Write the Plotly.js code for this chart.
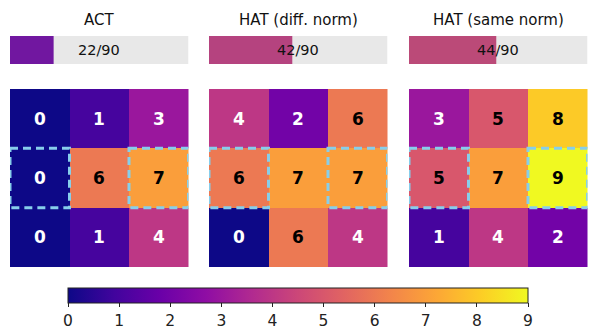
<!DOCTYPE html>
<html>
<head>
<meta charset="utf-8">
<script src="https://cdn.plot.ly/plotly-3.0.1.min.js"></script>
<style>
  html, body { margin: 0; padding: 0; background: #fff; }
  #plot { width: 598px; height: 336px; }
</style>
</head>
<body>
<div id="plot"></div>
<script>
"use strict";

// Grid values per panel (row 0 is the top row).
var titles = ['ACT', 'HAT (diff. norm)', 'HAT (same norm)'];
var gridAct = [[0, 1, 3], [0, 6, 7], [0, 1, 4]];
var gridHatDiff = [[4, 2, 6], [6, 7, 7], [0, 6, 4]];
var gridHatSame = [[3, 5, 8], [5, 7, 9], [1, 4, 2]];
var scores = [22, 42, 44];
var scoreTotal = 90;
var colorTicks = [0, 1, 2, 3, 4, 5, 6, 7, 8, 9];

var grids = [gridAct, gridHatDiff, gridHatSame];
var scoreColors = ['#7117a0', '#b5437f', '#bb4a78'];

// matplotlib's plasma, sampled every 0.1
var PLASMA = ['#0d0887', '#41049d', '#6a00a8', '#8f0da4', '#b12a90', '#cc4778',
              '#e16462', '#f2844b', '#fca636', '#fcce25', '#f0f921'];
var plasmaScale = PLASMA.map((c, i) => [i / 10, c]);

var W = 598, H = 336;
var px = v => v / W;
var py = v => 1 - v / H;

var panelX = [[10, 188.5], [209, 387.5], [409, 587.5]];
var gridY = [py(267), py(89)];
var barY = [py(64), py(36)];

var data = [];
var annotations = [];
var shapes = [];
var layout = {
  width: W,
  height: H,
  margin: {l: 0, r: 0, t: 0, b: 0},
  paper_bgcolor: '#fff',
  plot_bgcolor: '#fff',
  font: {family: 'DejaVu Sans', color: '#111'},
  barmode: 'overlay',
  showlegend: false,
};

grids.forEach((grid, p) => {
  var n = p + 1;
  var hx = 'x' + (2 * n - 1), hy = 'y' + (2 * n - 1);
  var bx = 'x' + (2 * n), by = 'y' + (2 * n);
  var dom = [px(panelX[p][0]), px(panelX[p][1])];
  var hidden = {showgrid: false, zeroline: false, showticklabels: false, ticks: '', fixedrange: true};

  layout['xaxis' + (2 * n - 1)] = Object.assign({domain: dom, range: [-0.5, 2.5], anchor: hy}, hidden);
  layout['yaxis' + (2 * n - 1)] = Object.assign({domain: gridY, range: [2.5, -0.5], anchor: hx}, hidden);
  layout['xaxis' + (2 * n)] = Object.assign({domain: dom, range: [0, scoreTotal], anchor: by}, hidden);
  layout['yaxis' + (2 * n)] = Object.assign({domain: barY, range: [-0.5, 0.5], anchor: bx}, hidden);

  var heat = {
    type: 'heatmap',
    z: grid,
    x: [0, 1, 2],
    y: [0, 1, 2],
    xaxis: hx,
    yaxis: hy,
    zmin: 0,
    zmax: 9,
    colorscale: plasmaScale,
    showscale: p === 0,
    hoverinfo: 'skip',
  };
  if (p === 0) {
    heat.colorbar = {
      orientation: 'h',
      x: px(298),
      xanchor: 'center',
      y: py(288),
      yanchor: 'top',
      len: 460,
      lenmode: 'pixels',
      thickness: 15,
      thicknessmode: 'pixels',
      xpad: 0,
      ypad: 0,
      outlinewidth: 1,
      outlinecolor: '#222',
      ticks: 'outside',
      ticklen: 4,
      tickcolor: '#222',
      tickvals: colorTicks,
      tickfont: {family: 'DejaVu Sans', size: 15.5, color: '#222'},
    };
  }
  data.push(heat);

  data.push({
    type: 'bar', orientation: 'h', x: [scoreTotal], y: [0], width: 1,
    xaxis: bx, yaxis: by, marker: {color: '#e8e8e8'}, hoverinfo: 'skip',
  });
  data.push({
    type: 'bar', orientation: 'h', x: [scores[p]], y: [0], width: 1,
    xaxis: bx, yaxis: by, marker: {color: scoreColors[p]},
    hoverinfo: 'skip',
  });

  annotations.push({
    xref: bx, yref: by, x: scoreTotal / 2, y: 0, xanchor: 'center',
    text: `${scores[p]}/${scoreTotal}`, showarrow: false,
    font: {size: 14.5, color: '#111'},
  });
  annotations.push({
    xref: 'paper', yref: 'paper', x: (dom[0] + dom[1]) / 2, y: py(20),
    xanchor: 'center', yanchor: 'middle',
    text: titles[p], showarrow: false,
    font: {size: 15, color: '#111'},
  });

  grid.forEach((row, r) => {
    row.forEach((v, c) => {
      annotations.push({
        xref: hx, yref: hy, x: c, y: r, text: '<b>' + v + '</b>', showarrow: false,
        font: {size: 17, color: v >= 5 ? '#000' : '#fff'},
      });
    });
  });

  // highlight boxes on the middle row, first and last column
  [0, 2].forEach(c => {
    shapes.push({
      type: 'rect', xref: hx, yref: hy,
      x0: c - 0.5, x1: c + 0.5, y0: 0.5, y1: 1.5,
      line: {color: '#87ceeb', width: 3, dash: '8px,5px'},
    });
  });
});

layout.annotations = annotations;
layout.shapes = shapes;

Plotly.newPlot('plot', data, layout, {displayModeBar: false, staticPlot: true});
</script>
</body>
</html>
